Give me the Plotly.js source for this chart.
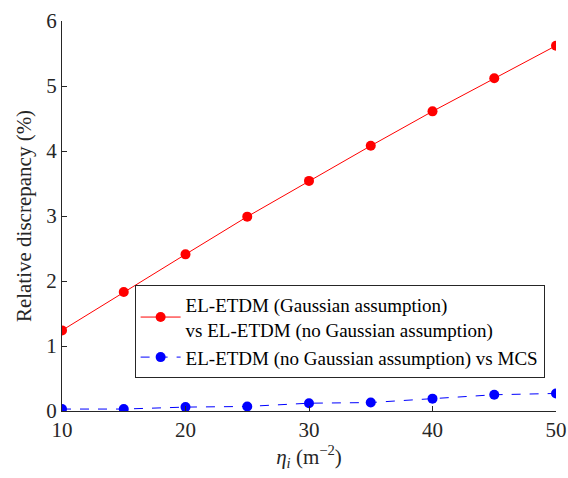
<!DOCTYPE html>
<html><head><meta charset="utf-8">
<script src="https://cdn.plot.ly/plotly-3.0.1.min.js"></script>
<style>
html,body{margin:0;padding:0;background:#fff}
</style>
</head><body>
<div id="chart" style="width:568px;height:478px"></div>
<script>
const eta = [10, 15, 20, 25, 30, 35, 40, 45, 50];
const gaussVsNoGauss = [1.24, 1.83, 2.41, 2.99, 3.54, 4.08, 4.61, 5.12, 5.62];
const noGaussVsMCS = [0.03, 0.03, 0.06, 0.07, 0.12, 0.13, 0.19, 0.25, 0.27];
const seriesNames = [
  "EL-ETDM (Gaussian assumption)<br>vs EL-ETDM (no Gaussian assumption)",
  "EL-ETDM (no Gaussian assumption) vs MCS"
];
const xTicks = [10, 20, 30, 40, 50];
const yTicks = [0, 1, 2, 3, 4, 5, 6];
const xTitle = "<i>\u03b7</i><sub><i>i</i></sub> (m<sup>\u22122</sup>)";
const yTitle = "Relative discrepancy (%)";

const axisColor = "#262626";

const traces = [
  {x: eta, y: gaussVsNoGauss, name: seriesNames[0], mode: "lines+markers",
   line: {color: "#ff0000", width: 1}, marker: {color: "#ff0000", size: 10}},
  {x: eta, y: noGaussVsMCS, name: seriesNames[1], mode: "lines+markers",
   line: {color: "#0000ff", width: 1, dash: "dash"}, marker: {color: "#0000ff", size: 10}}
];

const layout = {
  width: 568, height: 478,
  margin: {l: 62, r: 12, t: 21, b: 67, autoexpand: false},
  paper_bgcolor: "#fff", plot_bgcolor: "#fff",
  showlegend: true,
  legend: {x: 0.147, y: 0.085, xanchor: "left", yanchor: "bottom",
           bgcolor: "#fff", bordercolor: axisColor, borderwidth: 1,
           font: {family: "Liberation Serif", size: 19, color: "#000"},
           itemwidth: 40, tracegroupgap: 0},
  xaxis: {range: [10, 50], tickvals: xTicks, ticks: "inside", ticklen: 5,
          tickcolor: axisColor, showline: true, linecolor: axisColor, linewidth: 1,
          showgrid: false, zeroline: false, mirror: false, automargin: false,
          tickfont: {family: "Liberation Serif", size: 21, color: axisColor},
          title: {text: xTitle, standoff: 6,
                  font: {family: "Liberation Serif", size: 21, color: axisColor}}},
  yaxis: {range: [0, 6], tickvals: yTicks, ticks: "inside", ticklen: 5,
          tickcolor: axisColor, showline: true, linecolor: axisColor, linewidth: 1,
          showgrid: false, zeroline: false, mirror: false, automargin: false,
          tickfont: {family: "Liberation Serif", size: 21, color: axisColor},
          title: {text: yTitle, standoff: 8,
                  font: {family: "Liberation Serif", size: 21, color: axisColor}}}
};

Plotly.newPlot("chart", traces, layout, {displayModeBar: false, staticPlot: true});
</script>
</body></html>
